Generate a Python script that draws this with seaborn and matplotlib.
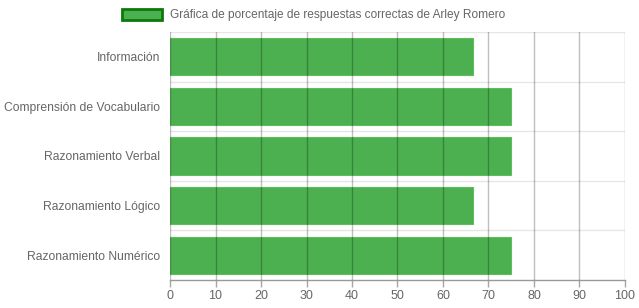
import matplotlib
matplotlib.use("Agg")
import matplotlib.pyplot as plt
import seaborn as sns
import pandas as pd
import numpy as np

categories = ["Información", "Comprensión de Vocabulario", "Razonamiento Verbal",
              "Razonamiento Lógico", "Razonamiento Numérico"]
values = [66.67, 75.0, 75.0, 66.67, 75.0]
xticks = [0, 10, 20, 30, 40, 50, 60, 70, 80, 90, 100]
legend_label = "Gráfica de porcentaje de respuestas correctas de Arley Romero"

sns.set_theme(style="white")
plt.rcParams['font.family'] = ['Liberation Sans', 'DejaVu Sans']

df = pd.DataFrame({"cat": categories, "val": values})

fig = plt.figure(figsize=(6.39, 3.08), dpi=100)
ax = fig.add_axes([170/639, 28/308, 455/639, 248/308])

sns.barplot(data=df, x="val", y="cat", orient="h", color="#4caf50", width=0.75,
            saturation=1, ax=ax, zorder=2, edgecolor="#5cbf5c", linewidth=0.8)

ax.set_xlim(0, 100)
ax.set_ylim(len(categories) - 0.5, -0.5)
ax.set_xticks(xticks)
ax.set_xticklabels([str(t) for t in xticks])
ax.set_xlabel("")
ax.set_ylabel("")

# vertical grid
for t in xticks:
    ax.axvline(t, color="black", alpha=0.25, lw=1, zorder=3)
# horizontal separators
bounds = np.arange(-0.5, len(categories) + 0.5, 1)
for b in bounds[:-1]:
    ax.axhline(b, color="#e6e6e6", lw=1, zorder=1)
ax.set_yticks(bounds[:-1], minor=True)
ax.tick_params(axis="y", which="minor", length=7.5, color="#e6e6e6", width=1)
ax.tick_params(axis="y", which="major", length=0, pad=7, labelsize=8.7, labelcolor="#666666")
ax.tick_params(axis="x", which="major", length=5, color="#a6a6a6", width=1, pad=2.5,
               labelsize=9, labelcolor="#666666", bottom=True)

for s in ["top", "right", "left"]:
    ax.spines[s].set_visible(False)
ax.spines["bottom"].set_color("#999999")
ax.spines["bottom"].set_linewidth(1)

# legend
from matplotlib.patches import Patch
handle = Patch(facecolor="#4caf50", edgecolor="#0b7a0b", linewidth=2)
fig.legend([handle], [legend_label], loc="center", bbox_to_anchor=(0.4906, 1 - 15/308),
           frameon=False, fontsize=8.6, labelcolor="#666666", handlelength=3.35,
           handleheight=1.1, handletextpad=0.67)

fig.savefig("out.png", dpi=100)
